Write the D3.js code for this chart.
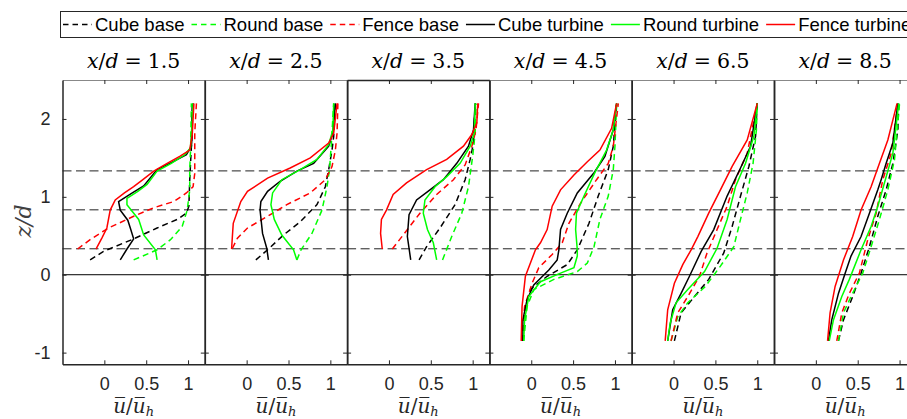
<!DOCTYPE html>
<html>
<head>
<meta charset="utf-8">
<script src="https://cdn.jsdelivr.net/npm/d3@7"></script>
<style>
  body { margin: 0; background: #fff; overflow: hidden; }
  svg { display: block; }
</style>
</head>
<body>
<div id="chart"></div>
<script>
// station positions of each panel
var stations = ["1.5", "2.5", "3.5", "4.5", "6.5", "8.5"];
var xTicks = [0, 0.5, 1];
var zTicks = [-1, 0, 1, 2];
var refLevels = [0.333, 0.833, 1.333]; // dashed horizontal guide lines

var seriesNames = ["Cube base", "Round base", "Fence base", "Cube turbine", "Round turbine", "Fence turbine"];

// each series: one profile [u, z] per panel
var cubeBase = [
  [[-0.17,0.19],[-0.01,0.3],[0.35,0.46],[0.63,0.6],[0.87,0.71],[0.98,0.79],[1.01,0.88],[1.02,1.22],[1.04,1.65],[1.05,2.2]],
  [[0.11,0.19],[0.25,0.32],[0.44,0.51],[0.64,0.68],[0.84,0.9],[0.94,1.13],[0.98,1.35],[1.02,1.6],[1.04,1.78],[1.06,2.2]],
  [[0.36,0.19],[0.45,0.36],[0.61,0.6],[0.79,0.9],[0.91,1.22],[0.97,1.48],[1.01,1.69],[1.03,2.2]],
  [[-0.1,-0.85],[-0.07,-0.41],[-0.01,-0.19],[0.19,-0.02],[0.43,0.13],[0.55,0.32],[0.69,0.66],[0.8,1.01],[0.92,1.35],[0.98,1.65],[1.02,2.2]],
  [[0.01,-0.85],[0.09,-0.49],[0.25,-0.28],[0.42,-0.06],[0.6,0.28],[0.7,0.62],[0.8,1.01],[0.9,1.39],[0.98,1.78],[1.0,2.2]],
  [[0.27,-0.85],[0.33,-0.58],[0.44,-0.28],[0.54,0.02],[0.64,0.36],[0.74,0.75],[0.84,1.09],[0.92,1.43],[0.98,1.86],[0.99,2.2]]
];
var roundBase = [
  [[0.35,0.19],[0.63,0.32],[0.79,0.45],[0.93,0.62],[0.99,0.83],[1.02,1.09],[1.02,1.35],[1.03,1.6],[1.04,2.2]],
  [[0.6,0.19],[0.65,0.32],[0.78,0.53],[0.9,0.83],[0.96,1.13],[0.99,1.35],[1.01,1.65],[1.04,2.2]],
  [[0.64,0.19],[0.75,0.49],[0.87,0.79],[0.95,1.13],[1.0,1.52],[1.03,1.82],[1.04,2.2]],
  [[-0.09,-0.85],[-0.05,-0.41],[0.03,-0.19],[0.27,-0.06],[0.55,0.04],[0.67,0.15],[0.75,0.36],[0.82,0.71],[0.92,1.01],[0.98,1.35],[1.0,1.65],[1.02,2.2]],
  [[-0.03,-0.85],[0.05,-0.54],[0.17,-0.36],[0.38,-0.15],[0.56,0.11],[0.72,0.36],[0.8,0.71],[0.88,1.05],[0.95,1.43],[0.99,1.86],[1.0,2.2]],
  [[0.27,-0.85],[0.33,-0.49],[0.42,-0.28],[0.56,0.02],[0.66,0.36],[0.76,0.71],[0.86,1.09],[0.94,1.48],[1.0,2.2]]
];
var fenceBase = [
  [[-0.32,0.33],[-0.17,0.45],[0.05,0.6],[0.35,0.75],[0.59,0.86],[0.83,0.94],[0.98,1.05],[1.06,1.13],[1.08,1.3],[1.08,1.56],[1.08,1.82],[1.1,2.2]],
  [[-0.17,0.34],[-0.11,0.47],[0.01,0.6],[0.25,0.75],[0.48,0.9],[0.76,1.05],[0.94,1.22],[1.02,1.39],[1.06,1.6],[1.08,1.82],[1.09,2.2]],
  [[0.04,0.33],[0.17,0.51],[0.37,0.79],[0.57,1.03],[0.77,1.22],[0.91,1.41],[0.99,1.65],[1.04,1.86],[1.07,2.2]],
  [[-0.11,-0.85],[-0.08,-0.41],[0.01,-0.11],[0.09,0.09],[0.25,0.26],[0.37,0.41],[0.45,0.66],[0.59,0.92],[0.78,1.22],[0.92,1.43],[0.98,1.65],[1.04,2.2]],
  [[-0.03,-0.85],[0.05,-0.49],[0.17,-0.28],[0.31,-0.02],[0.4,0.28],[0.52,0.58],[0.64,0.88],[0.74,1.22],[0.88,1.56],[1.0,2.2]],
  [[0.25,-0.85],[0.31,-0.49],[0.4,-0.24],[0.52,0.02],[0.62,0.45],[0.72,0.79],[0.8,1.22],[0.9,1.56],[0.98,2.2]]
];
var cubeTurbine = [
  [[0.19,0.19],[0.27,0.33],[0.35,0.46],[0.31,0.6],[0.28,0.7],[0.19,0.83],[0.17,0.94],[0.32,1.04],[0.47,1.14],[0.63,1.35],[0.8,1.44],[0.98,1.54],[1.04,1.65],[1.05,1.8],[1.05,2.0],[1.06,2.2]],
  [[0.26,0.19],[0.24,0.34],[0.19,0.53],[0.16,0.83],[0.17,0.94],[0.25,1.07],[0.4,1.2],[0.6,1.33],[0.8,1.43],[0.98,1.65],[1.03,1.82],[1.06,2.2]],
  [[0.26,0.19],[0.24,0.34],[0.22,0.49],[0.24,0.77],[0.33,0.96],[0.49,1.09],[0.65,1.22],[0.81,1.43],[0.95,1.65],[1.01,1.86],[1.03,2.2]],
  [[-0.1,-0.85],[-0.1,-0.58],[-0.05,-0.32],[0.03,-0.13],[0.21,0.06],[0.31,0.19],[0.33,0.32],[0.35,0.58],[0.43,0.79],[0.55,1.05],[0.75,1.31],[0.88,1.52],[0.98,1.86],[1.02,2.2]],
  [[-0.07,-0.85],[-0.01,-0.45],[0.09,-0.24],[0.19,-0.02],[0.33,0.3],[0.48,0.58],[0.64,1.01],[0.8,1.37],[0.92,1.65],[1.0,2.2]],
  [[0.15,-0.85],[0.19,-0.58],[0.27,-0.24],[0.35,0.02],[0.42,0.24],[0.54,0.49],[0.64,0.79],[0.74,1.09],[0.78,1.22],[0.84,1.43],[0.92,1.69],[0.98,2.2]]
];
var roundTurbine = [
  [[0.63,0.19],[0.61,0.32],[0.47,0.51],[0.41,0.71],[0.27,0.9],[0.27,0.98],[0.4,1.07],[0.51,1.16],[0.63,1.33],[0.8,1.43],[0.96,1.54],[1.03,1.63],[1.04,1.8],[1.05,2.0],[1.06,2.2]],
  [[0.6,0.19],[0.56,0.32],[0.42,0.51],[0.33,0.71],[0.29,0.9],[0.31,1.05],[0.42,1.22],[0.64,1.35],[0.84,1.48],[0.98,1.67],[1.03,1.86],[1.04,2.2]],
  [[0.57,0.19],[0.53,0.41],[0.46,0.58],[0.41,0.79],[0.43,0.96],[0.55,1.13],[0.69,1.26],[0.85,1.43],[0.97,1.65],[1.02,1.82],[1.03,2.2]],
  [[-0.09,-0.85],[-0.08,-0.58],[-0.03,-0.28],[0.11,-0.09],[0.35,0.02],[0.51,0.09],[0.55,0.24],[0.55,0.32],[0.53,0.58],[0.54,0.79],[0.63,1.01],[0.76,1.31],[0.9,1.6],[0.98,1.86],[1.02,2.2]],
  [[-0.07,-0.85],[-0.04,-0.62],[0.03,-0.36],[0.17,-0.19],[0.37,0.04],[0.52,0.34],[0.64,0.71],[0.74,1.13],[0.86,1.43],[0.96,1.78],[1.0,2.2]],
  [[0.16,-0.85],[0.21,-0.58],[0.31,-0.28],[0.4,-0.06],[0.54,0.32],[0.66,0.62],[0.74,0.88],[0.82,1.18],[0.92,1.56],[0.99,2.2]]
];
var fenceTurbine = [
  [[-0.1,0.33],[-0.03,0.47],[0.03,0.6],[0.07,0.83],[0.13,0.96],[0.24,1.05],[0.35,1.13],[0.46,1.22],[0.59,1.33],[0.75,1.43],[0.9,1.52],[1.02,1.6],[1.05,1.8],[1.06,2.0],[1.07,2.2]],
  [[-0.18,0.33],[-0.17,0.5],[-0.16,0.66],[-0.07,0.94],[0.01,1.07],[0.25,1.24],[0.52,1.37],[0.76,1.5],[0.98,1.69],[1.04,1.82],[1.08,2.2]],
  [[-0.08,0.33],[-0.1,0.53],[-0.09,0.71],[-0.03,0.83],[0.05,1.03],[0.21,1.18],[0.45,1.35],[0.69,1.48],[0.89,1.65],[0.99,1.8],[1.05,1.95],[1.06,2.2]],
  [[-0.12,-0.85],[-0.11,-0.41],[-0.07,-0.02],[0.05,0.32],[0.11,0.41],[0.19,0.58],[0.25,0.88],[0.35,1.09],[0.51,1.28],[0.67,1.45],[0.82,1.6],[0.96,1.88],[1.02,2.2]],
  [[-0.1,-0.85],[-0.07,-0.45],[0.01,-0.11],[0.11,0.13],[0.21,0.32],[0.29,0.49],[0.42,0.79],[0.56,1.09],[0.7,1.39],[0.88,1.73],[1.0,2.2]],
  [[0.14,-0.85],[0.17,-0.49],[0.23,-0.15],[0.33,0.19],[0.44,0.49],[0.54,0.83],[0.66,1.13],[0.76,1.43],[0.86,1.73],[0.97,2.2]]
];

var w = 907, h = 419;
var axisColor = "#262626";
var left0 = 62.5, panelW = 142.3; // panel layout
var plotTop = 80, plotBottom = 364.3;

var styles = [
  { data: cubeBase, color: "#000000", dash: "6,4" },
  { data: roundBase, color: "#00ff00", dash: "6,4" },
  { data: fenceBase, color: "#ff0000", dash: "6,4" },
  { data: cubeTurbine, color: "#000000", dash: null },
  { data: roundTurbine, color: "#00ff00", dash: null },
  { data: fenceTurbine, color: "#ff0000", dash: null }
];

// plain hyphen minus, like the original tick labels
var plainFmt = function(d) { return String(d); };

var svg = d3.select("#chart").append("svg")
  .attr("width", w)
  .attr("height", h);

var yScale = d3.scaleLinear().domain([-1.15, 2.5]).range([plotBottom, plotTop]);

stations.forEach(function(st, i) {
  var x0 = left0 + i * panelW;
  var xScale = d3.scaleLinear().domain([-0.5, 1.2]).range([x0, x0 + panelW]);
  var g = svg.append("g");

  // guide lines
  g.append("line")
    .attr("x1", x0).attr("x2", x0 + panelW)
    .attr("y1", yScale(0)).attr("y2", yScale(0))
    .attr("stroke", "#000").attr("stroke-width", 1);
  g.selectAll(".ref").data(refLevels).enter().append("line")
    .attr("x1", x0).attr("x2", x0 + panelW)
    .attr("y1", function(d) { return yScale(d); })
    .attr("y2", function(d) { return yScale(d); })
    .attr("stroke", "#222").attr("stroke-width", 1)
    .attr("stroke-dasharray", "9,4.5");

  // profiles
  var line = d3.line()
    .x(function(d) { return xScale(d[0]); })
    .y(function(d) { return yScale(d[1]); });
  styles.forEach(function(s) {
    g.append("path")
      .attr("d", line(s.data[i]))
      .attr("fill", "none")
      .attr("stroke", s.color)
      .attr("stroke-width", 1.5)
      .attr("stroke-dasharray", s.dash);
  });

  // box with ticks on all sides
  var bottomAx = g.append("g").attr("transform", "translate(0," + plotBottom + ")")
    .call(d3.axisBottom(xScale).tickValues(xTicks).tickSizeInner(-4).tickSizeOuter(0).tickPadding(13)
      .tickFormat(plainFmt));
  var topAx = g.append("g").attr("transform", "translate(0," + plotTop + ")")
    .call(d3.axisTop(xScale).tickValues(xTicks).tickSizeInner(-4).tickSizeOuter(0).tickFormat(""));
  var leftAx = g.append("g").attr("transform", "translate(" + x0 + ",0)")
    .call(d3.axisLeft(yScale).tickValues(zTicks).tickSizeInner(-4).tickSizeOuter(0).tickPadding(12)
      .tickFormat(i === 0 ? plainFmt : ""));
  var rightAx = g.append("g").attr("transform", "translate(" + (x0 + panelW) + ",0)")
    .call(d3.axisRight(yScale).tickValues(zTicks).tickSizeInner(-4).tickSizeOuter(0).tickFormat(""));

  [bottomAx, topAx, leftAx, rightAx].forEach(function(a) {
    a.select(".domain").attr("stroke", axisColor).attr("stroke-width", 1.5);
    a.selectAll(".tick line").attr("stroke", axisColor);
    a.selectAll("text").attr("fill", axisColor)
      .attr("font-family", "Liberation Sans, Arial, sans-serif").attr("font-size", 18);
  });
  if (i !== 2) topAx.select(".domain").attr("stroke", "#888").attr("stroke-width", 1);

  // panel title
  var t = g.append("text")
    .attr("x", x0 + panelW / 2).attr("y", 68)
    .attr("text-anchor", "middle")
    .attr("font-family", "DejaVu Serif, serif").attr("font-size", 20.5)
    .attr("fill", "#000");
  t.append("tspan").attr("font-style", "italic").text("x");
  t.append("tspan").text("/");
  t.append("tspan").attr("font-style", "italic").text("d");
  t.append("tspan").attr("dx", 6).text("=");
  t.append("tspan").attr("dx", 6).text(st);

  // x label
  var xl = g.append("text")
    .attr("x", x0 + panelW / 2).attr("y", 413)
    .attr("text-anchor", "middle")
    .attr("font-family", "DejaVu Serif, serif").attr("font-size", 20)
    .attr("fill", axisColor);
  xl.append("tspan").attr("font-style", "italic").text("u\u0305");
  xl.append("tspan").text("/");
  xl.append("tspan").attr("font-style", "italic").text("u\u0305");
  xl.append("tspan").attr("font-style", "italic").attr("font-size", 13).attr("dy", 3).text("h");
});

// y label
svg.append("text")
  .attr("transform", "translate(31,221) rotate(-90)")
  .attr("text-anchor", "middle")
  .attr("font-family", "DejaVu Serif, serif").attr("font-size", 22)
  .attr("font-style", "italic")
  .attr("fill", "#404040")
  .text("z/d");

// legend
var lg = svg.append("g");
lg.append("rect")
  .attr("x", 60.5).attr("y", 11.5)
  .attr("width", 870).attr("height", 26)
  .attr("fill", "#fff").attr("stroke", axisColor).attr("stroke-width", 1);
var lx = 63;
seriesNames.forEach(function(name, k) {
  lg.append("line")
    .attr("x1", lx).attr("x2", lx + 29)
    .attr("y1", 24.5).attr("y2", 24.5)
    .attr("stroke", styles[k].color).attr("stroke-width", 1.5)
    .attr("stroke-dasharray", styles[k].dash ? "5.5,4" : null);
  var txt = lg.append("text")
    .attr("x", lx + 32).attr("y", 31)
    .attr("font-family", "Liberation Sans, Arial, sans-serif").attr("font-size", 18.5)
    .attr("fill", "#000")
    .text(name);
  lx = lx + 32 + txt.node().getComputedTextLength() + 7;
});
</script>
</body>
</html>
